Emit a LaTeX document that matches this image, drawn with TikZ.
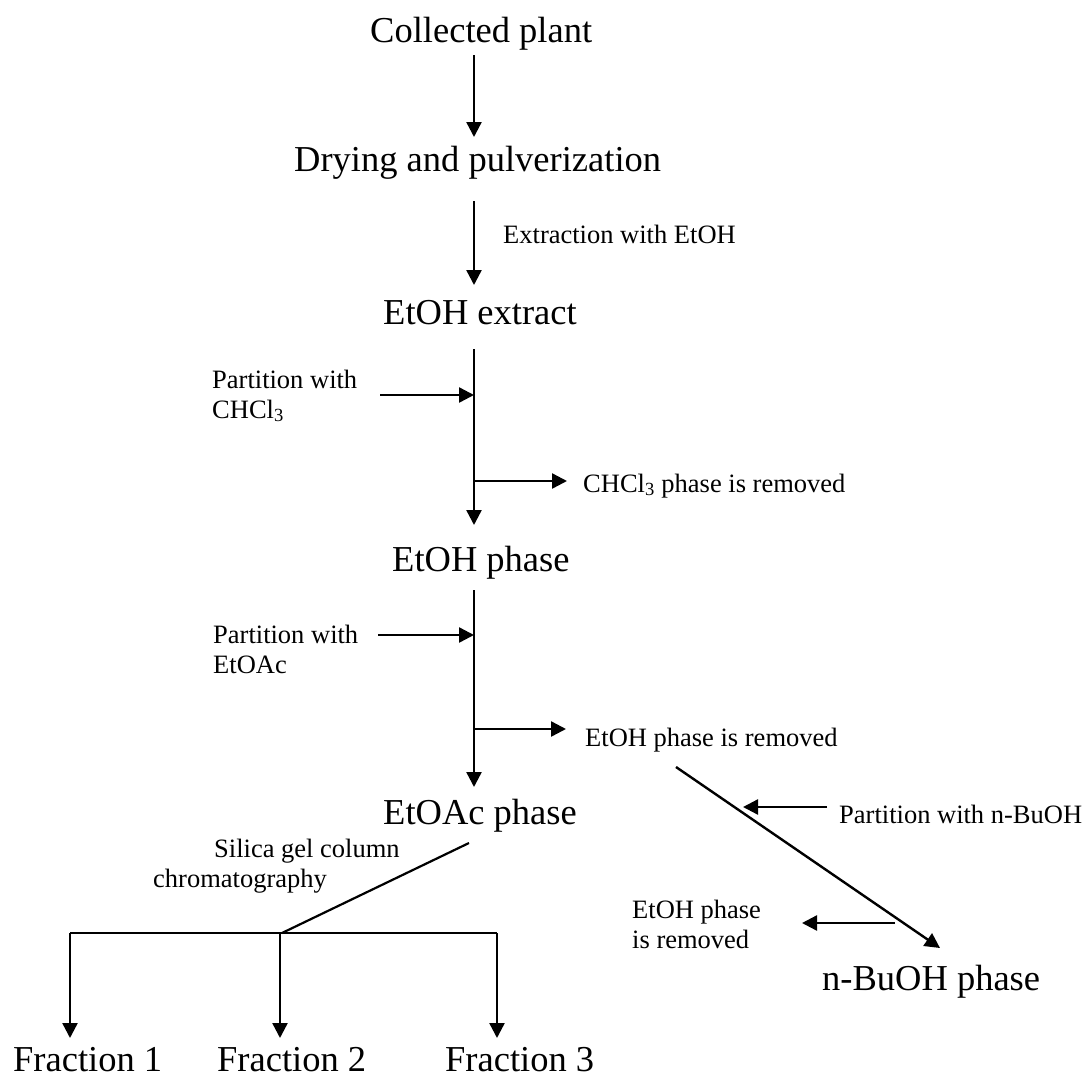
\documentclass[tikz,border=0pt]{standalone}
\usepackage{fontspec}
\setmainfont{Liberation Serif}
\usetikzlibrary{arrows.meta}
\begin{document}
\begin{tikzpicture}[x=1pt,y=-1pt,
  big/.style={font=\fontsize{36.5}{40}\selectfont, inner sep=0pt, anchor=base west},
  small/.style={font=\fontsize{26.5}{29.5}\selectfont, inner sep=0pt, anchor=base west, align=left},
  flow/.style={line width=2.4pt, -{Triangle[length=15pt,width=15pt]}},
  plain/.style={line width=2.2pt}]
\useasboundingbox (0,0) rectangle (1085,1076);

% main stages (anchored at the left end of the baseline)
\node[big] (plant)   at (370,42)  {Collected plant};
\node[big] (dry)     at (294,171) {Drying and pulverization};
\node[big] (extract) at (383,324) {EtOH extract};
\node[big] (etoh)    at (392,571) {EtOH phase};
\node[big] (etoac)   at (383,824) {EtOAc phase};
\node[big] (buoh)    at (822,990) {n-BuOH phase};
\node[big, text depth=0pt] (f1) at (13,1071)  {Fraction 1};
\node[big, text depth=0pt] (f2) at (217,1071) {Fraction 2};
\node[big, text depth=0pt] (f3) at (445,1071) {Fraction 3};

% process labels (two-line labels are anchored at their last baseline)
\node[small] (ext)  at (503,243) {Extraction with EtOH};
\node[small] (pc)   at (212,418) {Partition with\\CHCl\textsubscript{3}};
\node[small] (rc)   at (583,492) {CHCl\textsubscript{3} phase is removed};
\node[small] (pe)   at (213,673) {Partition with\\EtOAc};
\node[small] (re)   at (585,746) {EtOH phase is removed};
\node[small] (pb)   at (839,823) {Partition with n-BuOH};
\node[small] (rb)   at (632,948) {EtOH phase\\is removed};
\node[small] (sil)  at (153,887) {\hspace*{61pt}Silica gel column\\chromatography};

% connector end points
\coordinate (a1s) at (474,55);   \coordinate (a1e) at (474,137);
\coordinate (a2s) at (474,201);  \coordinate (a2e) at (474,285);
\coordinate (a3s) at (474,349);  \coordinate (a3e) at (474,525);
\coordinate (i3s) at (380,395);  \coordinate (i3e) at (474,395);
\coordinate (o3s) at (474,481);  \coordinate (o3e) at (567,481);
\coordinate (a4s) at (474,590);  \coordinate (a4e) at (474,787);
\coordinate (i4s) at (378,635);  \coordinate (i4e) at (474,635);
\coordinate (o4s) at (474,729);  \coordinate (o4e) at (566,729);
\coordinate (ds)  at (676,767);  \coordinate (de)  at (940,948);
\coordinate (ibs) at (827,807);  \coordinate (ibe) at (743,807);
\coordinate (obs) at (895,923);  \coordinate (obe) at (802,923);
\coordinate (cs)  at (469,843);  \coordinate (hub) at (282,933);
\coordinate (h1)  at (70,933);   \coordinate (h3)  at (497,933);
\coordinate (h2)  at (280,933);
\coordinate (t1)  at (70,1038);  \coordinate (t2)  at (280,1038);
\coordinate (t3)  at (497,1038);

% main line
\draw[flow] (a1s) -- (a1e);
\draw[flow] (a2s) -- (a2e);
\draw[flow] (a3s) -- (a3e);
\draw[flow] (i3s) -- (i3e);
\draw[flow] (o3s) -- (o3e);
\draw[flow] (a4s) -- (a4e);
\draw[flow] (i4s) -- (i4e);
\draw[flow] (o4s) -- (o4e);

% n-BuOH branch
\draw[flow] (ds) -- (de);
\draw[flow] (ibs) -- (ibe);
\draw[flow] (obs) -- (obe);

% column chromatography
\draw[plain] (cs) -- (hub);
\draw[plain] (h1) -- (h3);
\draw[flow] (h1) -- (t1);
\draw[flow] (h2) -- (t2);
\draw[flow] (h3) -- (t3);
\end{tikzpicture}
\end{document}
